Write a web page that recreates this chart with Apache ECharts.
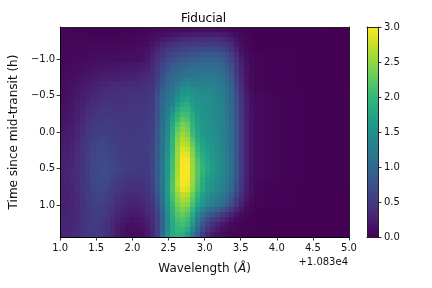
<!DOCTYPE html>
<html><head><meta charset="utf-8">
<style>html,body{margin:0;padding:0;background:#fff}#c{width:432px;height:288px}</style>
<script src="https://cdn.jsdelivr.net/npm/echarts@6/dist/echarts.min.js"></script>
</head><body><div id="c"></div>
<script>
const FONT = 'DejaVu Sans';
const titleText = 'Fiducial';
const xTicks = [1, 1.5, 2, 2.5, 3, 3.5, 4, 4.5, 5];
const yTicks = [-1, -0.5, 0, 0.5, 1];
const xExtent = [1, 5];
const yExtent = [-1.44, 1.44];
const colorbarRange = [0, 3];
const viridis = ['#440154','#482878','#3e4989','#31688e','#26828e','#1f9e89','#35b779','#6ece58','#b5de2b','#fde725'];
// far-red tails of each row (x > 3.75), flux x 100
const tailTop = [1,1,1,1,1,1,1,1,1,1,1,1,1,1,0,0,0,0,0];
const tailMid = [4,3,2,2,2,2,2,1,1,1,1,1,1,1,1,1,1,0,0];
const tailPeak = [8,6,5,4,3,3,2,2,2,2,1,1,1,1,1,1,1,1,1];
const tailLow = [1,1,1,1,0,0,0,0,0,0,0,0,0,0,0,0,0,0,0];
// flux x 100, one row per time step from the top of the panel down
const fluxRows = [
[5,4,3,2,2,2,1,1,1,1,1,1,2,2,2,3,3,4,6,7,8,9,10,11,12,12,13,13,13,13,13,12,11,9,7,5,4,3,2,...tailTop],
[5,4,4,3,3,2,2,2,2,2,2,2,3,3,3,4,4,6,8,10,12,15,17,19,20,21,22,23,24,24,24,23,21,18,14,10,6,4,3,...tailTop],
[5,5,4,4,4,4,4,4,4,4,4,4,4,5,5,5,6,8,12,16,21,25,29,32,34,36,37,38,39,40,40,39,36,31,24,16,9,5,3,...tailTop],
[5,5,5,5,5,6,6,6,6,6,6,6,7,7,7,8,9,12,17,24,31,37,41,45,48,50,51,52,53,54,54,52,49,43,34,22,11,6,3,...tailTop],
[5,5,6,6,6,7,7,8,8,8,8,8,8,9,9,10,11,15,22,30,40,47,52,57,61,63,65,66,67,68,68,66,62,55,43,28,14,8,4,...tailTop],
[6,6,6,7,7,8,9,9,10,10,10,10,10,11,11,11,13,18,27,37,49,57,63,68,72,75,78,80,82,83,84,82,78,69,56,36,19,10,5,...tailMid],
[6,6,7,8,8,9,10,11,11,12,12,12,12,12,13,13,15,20,30,42,55,65,72,78,82,85,88,90,92,93,93,90,85,76,63,42,24,12,6,...tailMid],
[7,7,8,9,10,11,13,14,15,16,16,17,17,17,18,19,21,25,33,46,61,73,81,87,92,95,98,100,102,103,104,100,93,83,70,47,28,14,7,...tailMid],
[7,8,9,10,12,14,16,17,18,19,20,20,21,21,22,23,25,29,36,50,67,81,90,96,101,105,108,110,112,113,113,109,101,90,75,50,30,15,7,...tailMid],
[8,9,10,12,14,16,18,20,21,22,23,24,24,25,26,27,29,33,38,54,72,88,97,103,108,112,115,118,120,120,120,116,108,97,80,53,32,16,8,...tailMid],
[9,10,12,14,16,19,22,24,26,27,28,28,29,29,30,31,33,37,41,58,77,93,103,112,120,124,125,126,127,127,126,122,114,102,85,56,34,17,8,...tailMid],
[10,11,13,16,18,22,25,28,30,31,33,33,34,34,35,36,38,41,44,63,83,98,108,122,135,140,137,135,134,134,132,127,119,107,90,60,36,18,9,...tailMid],
[10,12,15,18,21,25,28,31,33,35,36,37,38,38,39,40,41,44,47,68,89,104,113,132,148,153,148,144,141,140,138,132,124,111,94,65,40,20,10,...tailMid],
[11,13,16,19,23,27,30,34,36,38,39,40,40,41,42,43,44,46,50,72,94,110,119,141,158,163,155,148,145,143,141,135,127,114,97,70,43,23,12,...tailPeak],
[12,14,17,21,25,29,33,36,38,40,41,42,42,43,44,45,46,48,52,75,98,115,125,150,168,172,160,152,148,146,144,137,129,116,99,74,46,25,13,...tailPeak],
[13,15,18,23,27,32,36,39,42,44,44,44,44,44,45,46,47,50,53,77,100,120,136,163,183,185,168,156,150,148,145,139,131,117,100,76,47,26,14,...tailPeak],
[14,16,20,24,29,34,39,43,45,47,47,46,46,46,46,47,48,51,55,78,103,125,148,177,196,196,175,159,152,149,146,140,132,118,102,77,48,27,14,...tailPeak],
[15,17,21,26,31,37,42,46,48,49,49,48,47,47,47,48,49,52,56,80,105,130,160,190,208,205,180,162,154,150,147,141,133,119,103,78,49,27,15,...tailPeak],
[16,18,22,28,34,40,45,49,51,52,51,50,48,48,48,49,50,53,57,81,107,134,170,202,222,215,188,166,156,152,148,142,133,120,104,79,50,28,15,...tailPeak],
[17,20,24,29,36,43,48,52,54,55,53,51,49,49,49,49,51,54,58,83,109,138,178,215,235,228,195,170,158,153,148,142,134,120,104,80,50,28,15,...tailPeak],
[19,21,25,31,38,45,50,54,56,57,54,52,50,49,49,50,51,54,59,84,111,142,185,225,245,237,200,174,160,154,149,143,134,120,105,80,50,28,15,...tailPeak],
[20,22,26,32,40,47,52,56,58,58,55,52,50,50,50,50,52,55,60,85,112,145,190,235,255,245,205,178,162,155,149,143,135,120,105,80,50,28,15,...tailPeak],
[22,23,27,33,42,49,55,59,61,60,57,54,51,50,50,50,52,55,61,86,113,147,194,242,265,256,218,185,168,158,151,144,135,121,105,80,50,28,15,...tailPeak],
[23,25,29,35,44,51,58,62,64,62,59,55,52,51,50,50,52,56,62,87,115,150,197,247,272,266,230,193,173,162,154,146,137,122,106,81,50,28,15,...tailPeak],
[25,26,30,36,45,53,60,64,66,64,60,56,53,52,50,50,52,56,62,88,116,152,200,252,282,278,240,200,178,165,156,148,138,123,107,81,51,28,15,...tailPeak],
[26,27,31,37,45,54,61,65,67,66,62,58,54,52,51,50,51,55,63,88,117,155,203,255,290,287,245,208,184,170,159,150,140,125,108,82,51,28,15,...tailPeak],
[27,28,32,37,46,54,62,66,68,67,63,59,55,53,51,50,51,55,64,89,118,157,206,257,297,294,250,214,189,174,161,152,141,126,108,82,52,28,15,...tailPeak],
[28,29,32,38,46,55,63,67,69,68,64,60,56,54,52,50,50,54,64,90,119,158,208,259,300,297,253,218,192,176,163,153,141,127,109,83,52,28,15,...tailPeak],
[28,30,33,38,46,55,63,67,70,69,65,61,57,54,52,50,50,54,65,90,120,160,210,260,300,298,255,222,195,178,164,154,142,128,109,83,52,28,15,...tailPeak],
[28,30,33,38,46,55,62,67,69,67,63,58,54,51,49,48,48,52,63,89,120,161,213,262,300,298,254,220,192,174,161,151,140,125,107,81,50,27,14,...tailPeak],
[28,29,33,38,45,54,61,66,68,65,60,55,50,47,45,44,45,50,61,88,119,162,215,265,298,296,253,216,187,168,157,147,136,122,103,77,48,26,13,...tailPeak],
[28,29,32,37,45,53,61,65,66,63,56,51,46,43,41,41,43,48,60,86,118,164,218,266,296,292,251,213,183,164,153,145,134,119,100,74,46,25,12,...tailMid],
[28,29,32,37,45,53,60,64,65,60,53,48,43,40,38,38,40,46,58,85,118,163,218,260,288,282,245,208,180,160,151,143,132,117,98,72,45,24,12,...tailMid],
[28,28,31,36,44,52,58,62,62,57,50,44,39,36,34,34,37,43,54,81,115,160,212,250,272,268,232,198,171,152,142,134,123,107,88,63,39,21,10,...tailMid],
[28,28,31,36,43,51,57,60,60,54,47,41,36,32,30,31,34,40,50,76,110,158,208,243,262,256,222,188,162,145,134,125,114,98,78,55,33,17,8,...tailMid],
[28,28,30,35,42,50,56,58,57,52,45,38,33,30,28,29,32,38,45,72,106,155,202,235,250,243,212,178,155,138,127,117,106,89,69,47,27,13,6,...tailMid],
[28,29,31,35,42,49,55,57,55,49,42,35,29,26,24,25,29,35,42,67,100,150,195,226,240,232,198,160,135,115,102,92,80,64,47,31,17,8,4,...tailTop],
[29,29,31,35,42,48,53,55,53,47,39,31,26,22,20,21,25,32,40,62,96,145,188,218,228,218,182,142,115,92,78,67,53,41,28,17,9,5,2,...tailTop],
[29,30,32,36,42,48,53,54,51,44,36,28,22,18,16,17,20,28,38,60,93,142,183,210,218,205,170,128,97,74,59,48,36,26,17,9,5,3,2,...tailLow],
[30,30,32,36,42,47,52,52,48,42,33,25,18,14,12,13,16,25,36,58,92,140,180,203,208,195,158,115,80,58,42,30,20,13,8,5,3,2,1,...tailLow],
[31,31,33,37,42,47,51,51,47,40,32,23,16,12,10,11,14,22,34,58,95,145,180,198,198,180,142,100,67,46,31,21,14,9,6,4,2,2,1,...tailLow],
[31,31,33,37,42,47,50,50,46,39,31,22,15,11,9,10,12,20,32,58,100,148,180,192,188,165,128,88,55,35,22,14,9,6,4,3,2,1,1,...tailLow]
];

const nRows = fluxRows.length, nCols = fluxRows[0].length;
const dx = (xExtent[1] - xExtent[0]) / nCols;
const dy = (yExtent[1] - yExtent[0]) / nRows;
const cells = [];
fluxRows.forEach((row, j) => row.forEach((v, i) => {
  cells.push([xExtent[0] + (i + .5) * dx, yExtent[0] + (j + .5) * dy, v / 100]);
}));

const txt = { fontFamily: FONT, fontSize: 10, color: '#111' };
const line = { show: true, onZero: false, lineStyle: { color: '#000', width: 1 } };
const tick = { show: true, length: 3.5, lineStyle: { color: '#000', width: 0.8 } };
const frame = { show: true, onZero: false, lineStyle: { color: '#222', width: 1 } };

const chart = echarts.init(document.getElementById('c'), null, { renderer: 'canvas' });
chart.setOption({
  animation: false,
  backgroundColor: '#fff',
  title: { text: titleText, left: 176, top: 8,
    textStyle: { fontFamily: FONT, fontSize: 12, fontWeight: 'normal', color: '#000' } },
  grid: [
    { left: 59, top: 27, width: 290, height: 210 },
    { left: 367, top: 27, width: 11, height: 210 }
  ],
  xAxis: [
    { type: 'value', gridIndex: 0, min: xExtent[0], max: xExtent[1], z: 5,
      axisLine: line, axisTick: { ...tick, customValues: xTicks }, splitLine: { show: false },
      axisLabel: { ...txt, margin: 6, customValues: xTicks, formatter: v => v.toFixed(1) },
      name: '{a|Wavelength (}{b|Å}{a|)}', nameLocation: 'middle', nameGap: 26,
      nameTextStyle: { rich: {
        a: { fontFamily: FONT, fontSize: 12, color: '#111' },
        b: { fontFamily: FONT, fontSize: 12, fontStyle: 'italic', color: '#111' } } } },
    { type: 'value', gridIndex: 0, position: 'top', min: xExtent[0], max: xExtent[1], z: 5,
      axisLine: frame, axisTick: { show: false }, axisLabel: { show: false }, splitLine: { show: false } },
    { type: 'value', gridIndex: 1, min: 0, max: 1, z: 5, axisLine: frame,
      axisTick: { show: false }, axisLabel: { show: false }, splitLine: { show: false } },
    { type: 'value', gridIndex: 1, position: 'top', min: 0, max: 1, z: 5, axisLine: frame,
      axisTick: { show: false }, axisLabel: { show: false }, splitLine: { show: false } }
  ],
  yAxis: [
    { type: 'value', gridIndex: 0, inverse: true, min: yExtent[0], max: yExtent[1], z: 5,
      axisLine: line, axisTick: { ...tick, customValues: yTicks }, splitLine: { show: false },
      axisLabel: { ...txt, margin: 5, customValues: yTicks,
        formatter: v => (v < 0 ? '\u2212' : '') + Math.abs(v).toFixed(1) },
      name: 'Time since mid-transit (h)', nameLocation: 'middle', nameGap: 34,
      nameTextStyle: { fontFamily: FONT, fontSize: 12, color: '#111' } },
    { type: 'value', gridIndex: 0, position: 'right', inverse: true, min: yExtent[0], max: yExtent[1], z: 5,
      axisLine: frame, axisTick: { show: false }, axisLabel: { show: false }, splitLine: { show: false } },
    { type: 'value', gridIndex: 1, position: 'right', min: colorbarRange[0], max: colorbarRange[1], interval: 0.5, z: 5,
      axisLine: frame, axisTick: tick, splitLine: { show: false },
      axisLabel: { ...txt, margin: 6, formatter: v => v.toFixed(1) } },
    { type: 'value', gridIndex: 1, position: 'left', min: colorbarRange[0], max: colorbarRange[1], z: 5,
      axisLine: frame, axisTick: { show: false }, axisLabel: { show: false }, splitLine: { show: false } }
  ],
  visualMap: { show: false, type: 'continuous', seriesIndex: 0, dimension: 2,
    min: colorbarRange[0], max: colorbarRange[1], inRange: { color: viridis } },
  series: [
    { type: 'custom', xAxisIndex: 0, yAxisIndex: 0, data: cells, clip: true, silent: true,
      encode: { x: 0, y: 1 },
      renderItem: (params, api) => {
        const a = api.coord([api.value(0) - dx / 2, api.value(1) - dy / 2]);
        const b = api.coord([api.value(0) + dx / 2, api.value(1) + dy / 2]);
        const x0 = Math.round(a[0]), y0 = Math.round(a[1]);
        return { type: 'rect',
          shape: { x: x0, y: y0, width: Math.round(b[0]) - x0, height: Math.round(b[1]) - y0 },
          style: { fill: api.visual('color') } };
      } },
    { type: 'custom', xAxisIndex: 2, yAxisIndex: 2, data: [[0, colorbarRange[0], 1, colorbarRange[1]]], silent: true,
      encode: { x: [0, 2], y: [1, 3] },
      renderItem: (params, api) => {
        const a = api.coord([api.value(0), api.value(3)]);
        const b = api.coord([api.value(2), api.value(1)]);
        return { type: 'rect',
          shape: { x: a[0], y: a[1], width: b[0] - a[0], height: b[1] - a[1] },
          style: { fill: new echarts.graphic.LinearGradient(0, 1, 0, 0,
            viridis.map((c, i) => ({ offset: i / (viridis.length - 1), color: c }))) } };
      } }
  ],
  graphic: [
    { type: 'text', x: 348, y: 257, style: { text: '+1.083e4', fontFamily: FONT, fontSize: 10, fill: '#111', textAlign: 'right' } }
  ]
});
</script></body></html>
